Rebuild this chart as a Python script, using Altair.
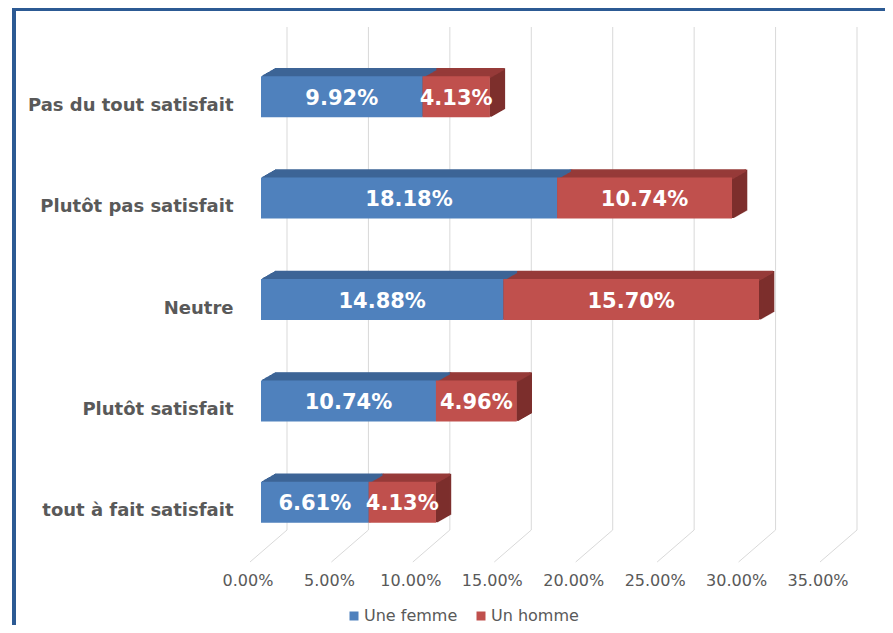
import altair as alt
import pandas as pd

categories = ["Pas du tout satisfait", "Plutôt pas satisfait", "Neutre",
              "Plutôt satisfait", "tout à fait satisfait"]
femme = [9.92, 18.18, 14.88, 10.74, 6.61]
homme = [4.13, 10.74, 15.70, 4.96, 4.13]
series = ["Une femme", "Un homme"]
tick_values = [0, 5, 10, 15, 20, 25, 30, 35]
tick_labels = ["0.00%", "5.00%", "10.00%", "15.00%", "20.00%", "25.00%", "30.00%", "35.00%"]

front_cols = {"Une femme": "#4f81bd", "Un homme": "#c0504d"}
top_cols = {"Une femme": "#3d6496", "Un homme": "#963b39"}
side_cols = {"Une femme": "#2f5078", "Un homme": "#7d2f2d"}

rows = []
for c, f, h in zip(categories, femme, homme):
    start = 0.0
    for s, v in zip(series, [f, h]):
        rows.append({"cat": c, "series": s, "value": v, "start": start,
                     "end": start + v, "mid": start + v / 2,
                     "label": f"{v:.2f}%", "top": top_cols[s], "side": side_cols[s]})
        start += v
df = pd.DataFrame(rows)
ticks = pd.DataFrame({"t": tick_values, "tl": tick_labels})

FONT = "DejaVu Sans"
xscale = alt.Scale(domain=[0, 35], nice=False, zero=True)
yscale = alt.Scale(domain=categories, paddingInner=0, paddingOuter=0)
yaxis = alt.Axis(title=None, domain=False, ticks=False, grid=False, labelFontSize=18,
                 labelFontWeight="bold", labelColor="#595959", labelPadding=28,
                 labelFont=FONT, labelLimit=400, labelOffset=9)

def Y():
    return alt.Y("cat:N", sort=categories, scale=yscale, axis=yaxis)

base = alt.Chart(df)

frame = alt.Chart(ticks).mark_rect(fill=None, stroke="#2c5a93", strokeWidth=3).encode(
    x=alt.value(-247), x2=alt.value(660), y=alt.value(-37), y2=alt.value(640)
)

grid = alt.Chart(ticks).mark_rule(color="#d9d9d9", strokeWidth=1, xOffset=26).encode(
    x=alt.X("t:Q", scale=xscale, axis=None), y=alt.value(-19), y2=alt.value(484)
)
diag = alt.Chart(ticks).mark_rule(color="#d9d9d9", strokeWidth=1, xOffset=26, x2Offset=-11).encode(
    x=alt.X("t:Q", scale=xscale, axis=None), x2="t:Q", y=alt.value(484), y2=alt.value(516)
)

N = 14
DX, DY = 14.0, 8.0
side_layers = []
top_layers = []
for k in range(1, N + 1):
    dx = DX * k / N
    dy = DY * k / N
    side_layers.append(
        base.mark_bar(size=41, xOffset=dx - 1.5, x2Offset=dx + 1.3, yOffset=-dy, y2Offset=-dy).encode(
            x=alt.X("end:Q", scale=xscale, axis=None), x2="end:Q", y=Y(),
            fill=alt.Fill("side:N", scale=None)
        )
    )
    top_layers.append(
        base.mark_bar(size=2.5, xOffset=dx, x2Offset=dx, yOffset=-19.5 - dy, y2Offset=-19.5 - dy).encode(
            x=alt.X("start:Q", scale=xscale, axis=None), x2="end:Q", y=Y(),
            fill=alt.Fill("top:N", scale=None)
        )
    )

front = base.mark_bar(size=41).encode(
    x=alt.X("start:Q", scale=xscale, axis=None), x2="end:Q",
    y=Y(),
    color=alt.Color("series:N", scale=alt.Scale(domain=series,
                                                range=[front_cols[s] for s in series]),
                    legend=alt.Legend(title=None, orient="none", legendX=85, legendY=562,
                                      direction="horizontal", symbolType="square",
                                      symbolSize=81, symbolStrokeWidth=0,
                                      labelFontSize=16, labelColor="#595959", labelFont=FONT,
                                      labelOffset=2, columnPadding=15))
)

labels = base.mark_text(color="white", fontWeight="bold", fontSize=21, font=FONT, dy=2).encode(
    x=alt.X("mid:Q", scale=xscale, axis=None), y=Y(), text="label:N"
)

xlabels = alt.Chart(ticks).mark_text(color="#595959", fontSize=16, font=FONT, dx=-13,
                                     baseline="middle").encode(
    x=alt.X("t:Q", scale=xscale, axis=None), y=alt.value(535), text="tl:N"
)

chart = alt.layer(frame, grid, diag, *side_layers, *top_layers, front, labels, xlabels).properties(
    width=570, height=507,
    padding={"left": 253, "top": 38, "right": 54, "bottom": 72},
    autosize=alt.AutoSizeParams(type="none"),
    background="white",
).configure_view(stroke=None)

chart.save("out.html", embed_options={"renderer": "svg", "actions": False})
